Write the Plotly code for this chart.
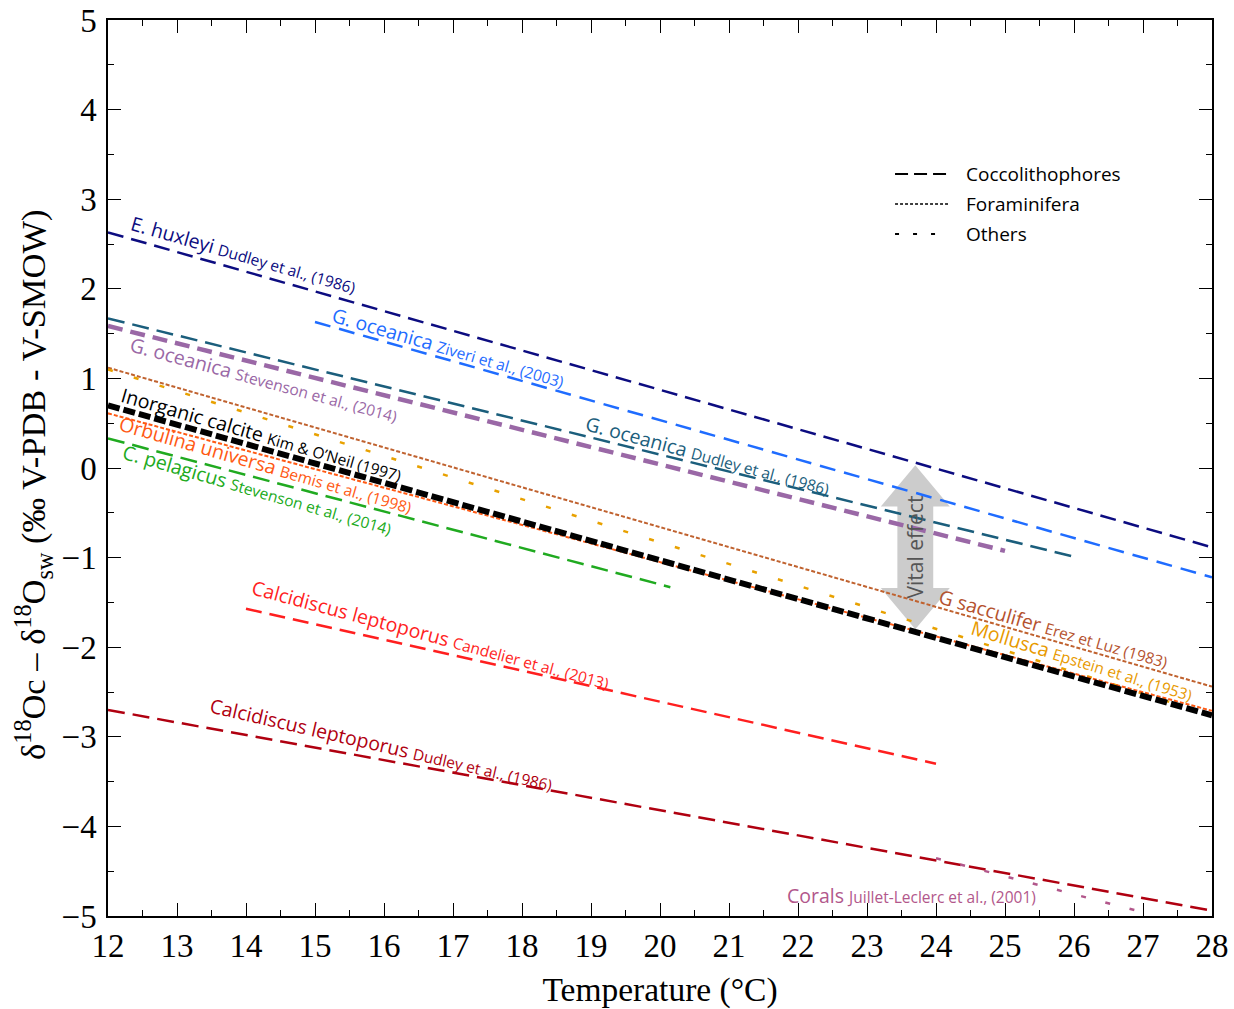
import plotly.graph_objects as go

# ---------------- data ----------------
series_names = [
    "E. huxleyi (Dudley 1986)", "G. oceanica (Ziveri 2003)", "G. oceanica (Dudley 1986)",
    "G. oceanica (Stevenson 2014)", "G sacculifer (Erez & Luz 1983)", "Mollusca (Epstein 1953)",
    "Orbulina universa (Bemis 1998)", "Inorganic calcite (Kim & O'Neil 1997)",
    "C. pelagicus (Stevenson 2014)", "C. leptoporus (Candelier 2013)",
    "C. leptoporus (Dudley 1986)", "Corals (Juillet-Leclerc 2001)",
]
t_start = [12, 15, 12, 12, 12, 12, 12, 12, 12, 14, 12, 24]
t_end = [28, 28, 26, 25, 28, 28, 28, 28, 20.15, 24, 28, 27.03]
d18o_start = [2.63, 1.63, 1.67, 1.585, 1.12, 1.10, 0.61, 0.70, 0.33, -1.57, -2.70, -4.355]
d18o_end = [-0.885, -1.22, -0.99, -0.925, -2.44, -2.76, -2.71, -2.76, -1.33, -3.30, -4.94, -4.965]

x_ticks = list(range(12, 29))
y_ticks = list(range(-5, 6))

legend_groups = ["Coccolithophores", "Foraminifera", "Others"]

# ---------------- styles ----------------
colors = ["#0c0c80", "#1f6cff", "#1b5e7c", "#9a68a6", "#c0622f", "#e8a100",
          "#ff5a14", "#000000", "#20aa20", "#ff1f1f", "#b00010", "#b2578b"]
widths = [2.5, 2.5, 2.5, 4.5, 2, 2.5, 2, 6, 2.5, 2.5, 2.5, 2.5]
dashes = ["16px,8px", "16px,9px", "17px,8px", "15px,8px", "4px,2px", "5px,22px",
          "4px,2px", "12px,4px", "17px,8px", "16px,8px", "17px,8px", "5px,20px"]

fig = go.Figure()
for i, name in enumerate(series_names):
    fig.add_trace(go.Scatter(
        x=[t_start[i], t_end[i]], y=[d18o_start[i], d18o_end[i]],
        mode="lines", name=name, showlegend=False, hoverinfo="skip",
        line=dict(color=colors[i], width=widths[i], dash=dashes[i]),
        cliponaxis=False,
    ))

# ---------------- labels along lines ----------------
SANS = "Open Sans"
def lab(main, ref, small=15.5):
    return f"{main} <span style='font-size:{small}px'>{ref}</span>"

labels = [
    (lab("E. huxleyi", "Dudley et al., (1986)"), 13.96, 2.38, 16, colors[0]),
    (lab("G. oceanica", "Ziveri et al., (2003)"), 16.93, 1.34, 16, colors[1]),
    (lab("G. oceanica", "Stevenson et al., (2014)"), 14.26, 0.99, 15, colors[3]),
    (lab("G. oceanica", "Dudley et al., (1986)"), 20.70, 0.14, 15, colors[2]),
    (lab("Inorganic calcite", "Kim &amp; O’Neil (1997)"), 14.23, 0.37, 16, "#000000"),
    (lab("Orbulina universa", "Bemis et al., (1998)"), 14.28, 0.04, 16, colors[6]),
    (lab("C. pelagicus", "Stevenson et al., (2014)"), 14.16, -0.24, 16, colors[8]),
    (lab("Calcidiscus leptoporus", "Candelier et al., (2013)"), 16.68, -1.86, 15, colors[9]),
    (lab("Calcidiscus leptoporus", "Dudley et al., (1986)"), 15.97, -3.085, 13, colors[10]),
    (lab("G sacculifer", "Erez et Luz (1983)"), 25.71, -1.79, 16, "#b5522e"),
    (lab("Mollusca", "Epstein et al., (1953)"), 26.12, -2.145, 17, "#e89a00"),
    (lab("Corals", "Juillet-Leclerc et al., (2001)"), 23.65, -4.77, 0, colors[11]),
]
for txt, x, y, ang, col in labels:
    fig.add_annotation(x=x, y=y, text=txt, showarrow=False, textangle=ang,
                       font=dict(family=SANS, size=19.5, color=col),
                       xanchor="center", yanchor="middle")

# ---------------- vital effect arrow ----------------
ax_c, ay_top, ay_bot = 23.70, 0.03, -1.80
hw_shaft, hw_head, head_len = 0.26, 0.5, 0.46
p = [
    (ax_c, ay_top), (ax_c + hw_head, ay_top - head_len), (ax_c + hw_shaft, ay_top - head_len),
    (ax_c + hw_shaft, ay_bot + head_len), (ax_c + hw_head, ay_bot + head_len), (ax_c, ay_bot),
    (ax_c - hw_head, ay_bot + head_len), (ax_c - hw_shaft, ay_bot + head_len),
    (ax_c - hw_shaft, ay_top - head_len), (ax_c - hw_head, ay_top - head_len),
]
path = "M " + " L ".join(f"{a},{b}" for a, b in p) + " Z"
fig.add_shape(type="path", path=path, xref="x", yref="y", fillcolor="#c9c9c9",
              line=dict(width=0), layer="below", opacity=0.95)
fig.add_annotation(x=ax_c, y=(ay_top + ay_bot) / 2, text="Vital effect", showarrow=False,
                   textangle=-90, font=dict(family=SANS, size=21, color="#555555"))

# ---------------- manual legend ----------------
leg_dash = ["13px,6px", "3px,2px", "4px,14px"]
leg_w = [2, 1.5, 2]
leg_y = [0.828, 0.7946, 0.7612]
for g, d, w, yy in zip(legend_groups, leg_dash, leg_w, leg_y):
    fig.add_shape(type="line", xref="paper", yref="paper", x0=0.7129, x1=0.7609,
                  y0=yy, y1=yy, line=dict(color="black", width=w, dash=d))
    fig.add_annotation(xref="paper", yref="paper", x=0.7754, y=yy, text=g, showarrow=False,
                       xanchor="left", yanchor="middle",
                       font=dict(family=SANS, size=19, color="black"))

SERIF = "Liberation Serif"
# y-axis title placed as a rotated annotation so it can sit exactly as in the reference
fig.add_annotation(xref="paper", yref="paper", x=-0.068, y=0.481, showarrow=False,
                   textangle=-90, xanchor="center", yanchor="middle",
                   text="δ<sup>18</sup>Oc – δ<sup>18</sup>O<sub>sw</sub> (‰ V-PDB - V-SMOW)",
                   font=dict(family=SERIF, size=34.5, color="black"))

axis_common = dict(showgrid=False, zeroline=False, showline=True, linecolor="black",
                   linewidth=1.5, mirror="ticks", ticks="inside", ticklen=13,
                   tickwidth=1.2, tickcolor="black", automargin=False,
                   ticklabeloverflow="allow",
                   tickfont=dict(family=SERIF, size=33, color="black"))
fig.update_xaxes(range=[12, 28], tickvals=x_ticks,
                 minor=dict(dtick=0.5, ticks="inside", ticklen=6, tickcolor="black"),
                 title=dict(text="Temperature (°C)", font=dict(family=SERIF, size=33.5, color="black"),
                            standoff=20),
                 **axis_common)
fig.update_yaxes(range=[-5, 5], tickvals=y_ticks, ticklabelstandoff=3,
                 minor=dict(dtick=0.5, ticks="inside", ticklen=6, tickcolor="black"),
                 **axis_common)

fig.update_layout(width=1234, height=1009, plot_bgcolor="white", paper_bgcolor="white",
                  margin=dict(l=108, r=22, t=20, b=93), showlegend=False)

# remove the default page margin so the figure sits at the window's top-left corner
fig.write_html("out.html", post_script="document.body.style.margin='0';",
               config={"displayModeBar": False})
